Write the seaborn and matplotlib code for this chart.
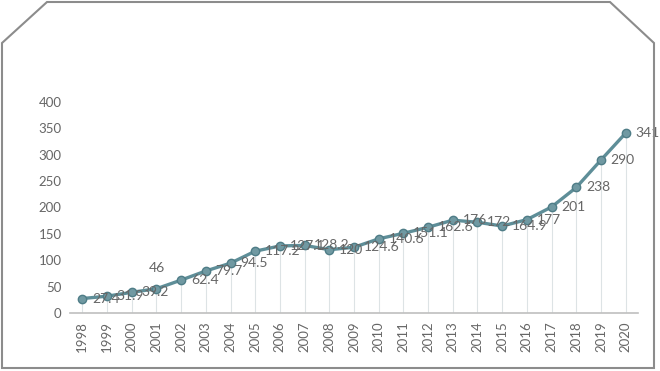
import matplotlib
matplotlib.use('Agg')
import matplotlib.pyplot as plt
import seaborn as sns
import pandas as pd
from matplotlib.patches import Polygon

# données
years = [str(y) for y in range(1998, 2021)]
values = [27.4, 31.9, 39.2, 46, 62.4, 79.7, 94.5, 117.2, 127.1, 128.2, 120, 124.6,
          140.6, 151.1, 162.6, 176, 172, 164.9, 177, 201, 238, 290, 341]
labels = ['27.4', '31.9', '39.2', '46', '62.4', '79.7', '94.5', '117.2', '127.1', '128.2',
          '120', '124.6', '140.6', '151.1', '162.6', '176', '172', '164.9', '177',
          '201', '238', '290', '341']
yticks = [0, 50, 100, 150, 200, 250, 300, 350, 400]

df = pd.DataFrame({'year': years, 'value': values})

sns.set_style('white')
plt.rcParams['font.family'] = ['Lato', 'DejaVu Sans']

line_color = '#5e8e98'
text_color = '#666666'

fig = plt.figure(figsize=(6.6, 3.71), dpi=100)
fig.patch.set_facecolor('white')
ax = fig.add_axes([70 / 660, 58 / 371, 568 / 660, 211 / 371])

x = list(range(len(years)))
# lignes verticales vers l'axe
ax.vlines(x, 0, values, color='#dde3e5', linewidth=0.8, zorder=1)

sns.lineplot(x=x, y=df['value'], ax=ax, color=line_color, linewidth=2.4,
             marker='o', markersize=6, markerfacecolor='#7099a2',
             markeredgecolor='#4f7d87', markeredgewidth=1, zorder=3)

for i, (v, lab) in enumerate(zip(values, labels)):
    if lab == '46':
        ax.annotate(lab, (i, v), xytext=(0, 15), textcoords='offset points',
                    ha='center', va='center', fontsize=10, color=text_color)
    else:
        ax.annotate(lab, (i, v), xytext=(7, 0), textcoords='offset points',
                    ha='left', va='center', fontsize=10, color=text_color)

ax.set_xlim(-0.5, len(years) - 0.5)
ax.set_ylim(0, 400)
ax.set_xticks(x)
ax.set_xticklabels(years, rotation=90, fontsize=9.5, color=text_color)
ax.set_yticks(yticks)
ax.set_yticklabels([str(t) for t in yticks], fontsize=9.5, color=text_color)
ax.tick_params(axis='both', length=0, pad=6)
ax.set_xlabel('')
ax.set_ylabel('')
for s in ['top', 'right', 'left']:
    ax.spines[s].set_visible(False)
ax.spines['bottom'].set_color('#bfbfbf')
ax.spines['bottom'].set_linewidth(1.2)
ax.set_facecolor('white')

# cadre aux coins coupés (coordonnées en pixels depuis le haut)
W, H = 660, 371
pts = [(2, 368), (2, 43), (47, 2), (610, 2), (654, 43), (654, 368)]
frame = Polygon([(px / W, (H - py) / H) for px, py in pts], closed=True, fill=False,
                edgecolor='#8c8c8c', linewidth=1.5, transform=fig.transFigure)
fig.add_artist(frame)

plt.savefig('out.png', dpi=100, facecolor='white')
plt.close()
